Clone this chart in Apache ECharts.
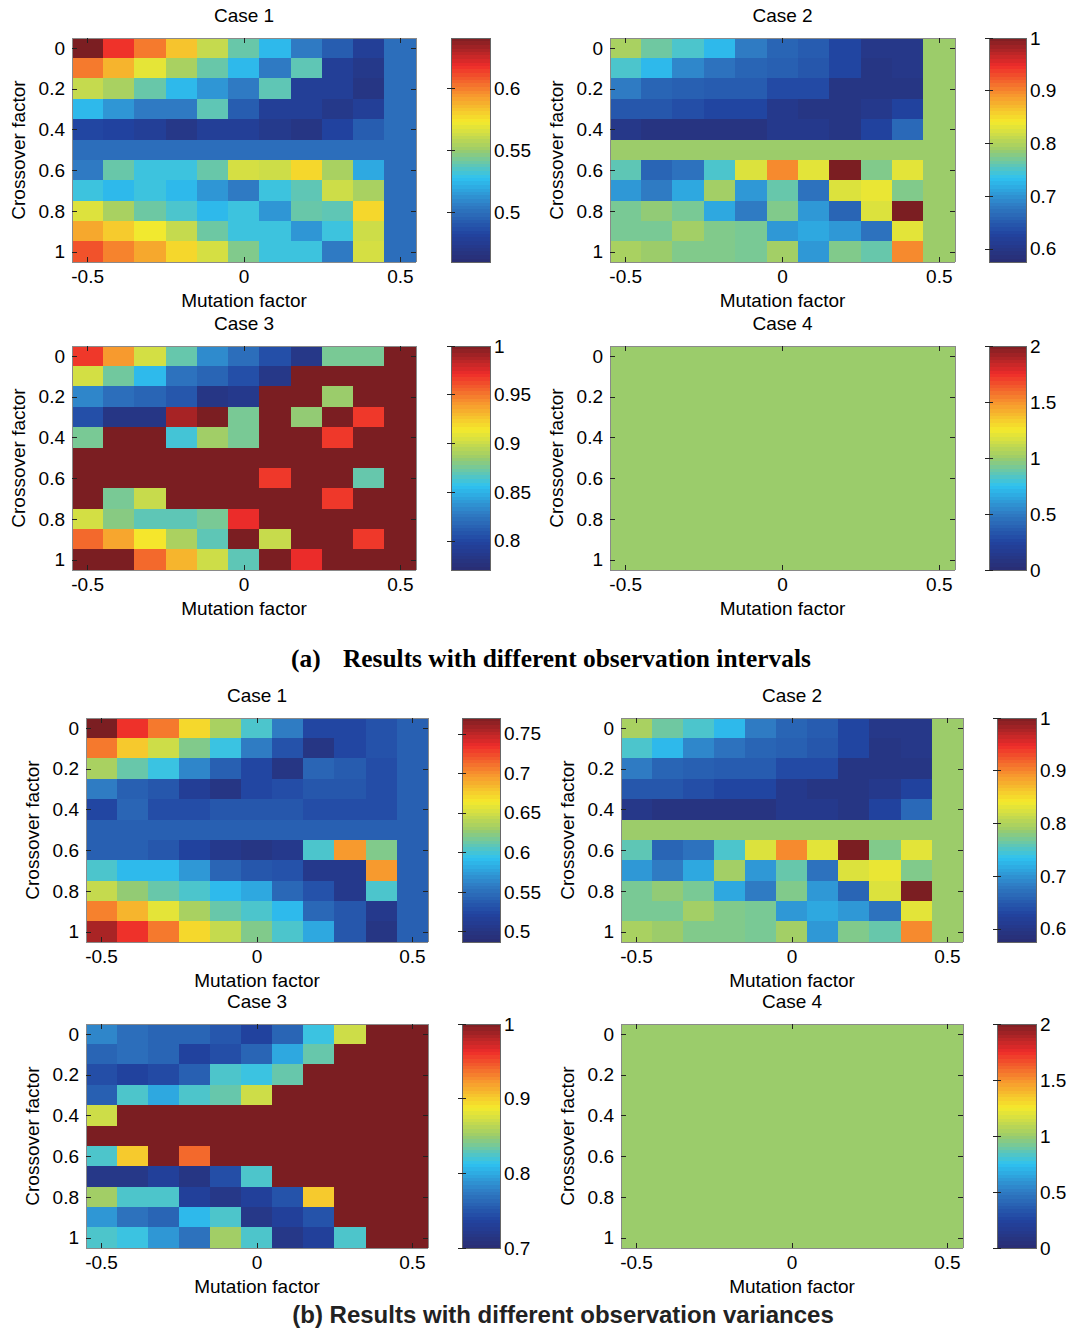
<!DOCTYPE html>
<html>
<head>
<meta charset="utf-8">
<script src="https://cdn.jsdelivr.net/npm/echarts@6/dist/echarts.min.js"></script>
<style>html,body{margin:0;padding:0;background:#fff;}#chart{width:1073px;height:1331px;}</style>
</head>
<body>
<div id="chart"></div>
<script>
// ---------- axes categories and tick labels ----------
const mutationFactors = ['-0.5','-0.4','-0.3','-0.2','-0.1','0','0.1','0.2','0.3','0.4','0.5'];
const crossoverFactors = ['0','0.1','0.2','0.3','0.4','0.5','0.6','0.7','0.8','0.9','1'];
const mutationTickLabels = ['-0.5','0','0.5'];
const crossoverTickLabels = ['0','0.2','0.4','0.6','0.8','1'];

// ---------- (a) different observation intervals ----------
// rows: crossover factor 0 .. 1, columns: mutation factor -0.5 .. 0.5
const intervalsCase1 = [
  [0.641,0.617,0.601,0.583,0.561,0.540,0.525,0.505,0.493,0.478,0.500],
  [0.601,0.587,0.569,0.554,0.540,0.525,0.505,0.538,0.478,0.472,0.500],
  [0.561,0.554,0.540,0.525,0.514,0.505,0.538,0.478,0.478,0.469,0.500],
  [0.525,0.514,0.505,0.505,0.538,0.493,0.478,0.478,0.472,0.478,0.500],
  [0.484,0.482,0.478,0.471,0.478,0.478,0.473,0.469,0.482,0.493,0.500],
  [0.500,0.500,0.500,0.500,0.500,0.500,0.500,0.500,0.500,0.500,0.500],
  [0.505,0.540,0.531,0.531,0.540,0.565,0.563,0.578,0.554,0.520,0.500],
  [0.531,0.525,0.531,0.525,0.514,0.505,0.531,0.538,0.563,0.554,0.500],
  [0.567,0.554,0.541,0.534,0.525,0.531,0.514,0.540,0.538,0.578,0.500],
  [0.590,0.581,0.572,0.561,0.541,0.531,0.531,0.514,0.531,0.563,0.500],
  [0.610,0.599,0.590,0.578,0.565,0.545,0.531,0.531,0.505,0.565,0.500]
];
const intervalsCase1Range = [0.46, 0.641];
const intervalsCase1Ticks = [0.5, 0.55, 0.6];

const intervalsCase2 = [
  [0.796,0.766,0.749,0.728,0.681,0.660,0.652,0.630,0.601,0.601,0.788],
  [0.749,0.728,0.690,0.673,0.660,0.656,0.647,0.630,0.596,0.601,0.788],
  [0.681,0.660,0.656,0.652,0.652,0.635,0.635,0.596,0.596,0.596,0.788],
  [0.647,0.647,0.639,0.630,0.630,0.605,0.596,0.596,0.605,0.626,0.788],
  [0.601,0.592,0.592,0.592,0.592,0.605,0.605,0.596,0.626,0.664,0.788],
  [0.788,0.788,0.788,0.788,0.788,0.788,0.788,0.788,0.788,0.788,0.788],
  [0.758,0.660,0.673,0.749,0.826,0.898,0.830,1.000,0.775,0.830,0.788],
  [0.703,0.681,0.715,0.792,0.703,0.762,0.673,0.826,0.834,0.775,0.788],
  [0.771,0.783,0.771,0.715,0.681,0.775,0.703,0.660,0.826,1.000,0.788],
  [0.771,0.771,0.792,0.775,0.771,0.703,0.715,0.703,0.673,0.830,0.788],
  [0.796,0.788,0.775,0.775,0.771,0.792,0.703,0.775,0.762,0.898,0.788]
];
const intervalsCase2Range = [0.575, 1.0];
const intervalsCase2Ticks = [0.6, 0.7, 0.8, 0.9, 1];

const intervalsCase3 = [
  [0.968,0.940,0.903,0.871,0.834,0.821,0.805,0.784,0.876,0.876,1.000],
  [0.903,0.874,0.853,0.823,0.816,0.805,0.784,1.000,1.000,1.000,1.000],
  [0.832,0.821,0.816,0.809,0.782,0.786,1.000,1.000,0.885,1.000,1.000],
  [0.805,0.782,0.782,0.989,1.000,0.876,1.000,0.883,1.000,0.968,1.000],
  [0.876,1.000,1.000,0.862,0.887,0.876,1.000,1.000,0.968,1.000,1.000],
  [1.000,1.000,1.000,1.000,1.000,1.000,1.000,1.000,1.000,1.000,1.000],
  [1.000,1.000,1.000,1.000,1.000,1.000,0.968,1.000,1.000,0.871,1.000],
  [1.000,0.876,0.899,1.000,1.000,1.000,1.000,1.000,0.968,1.000,1.000],
  [0.903,0.880,0.869,0.869,0.876,0.972,1.000,1.000,1.000,1.000,1.000],
  [0.954,0.936,0.915,0.890,0.869,1.000,0.899,1.000,1.000,0.968,1.000],
  [1.000,1.000,0.954,0.931,0.901,0.869,1.000,0.972,1.000,1.000,1.000]
];
const intervalsCase3Range = [0.77, 1.0];
const intervalsCase3Ticks = [0.8, 0.85, 0.9, 0.95, 1];

const intervalsCase4 = [
  [1,1,1,1,1,1,1,1,1,1,1],[1,1,1,1,1,1,1,1,1,1,1],[1,1,1,1,1,1,1,1,1,1,1],
  [1,1,1,1,1,1,1,1,1,1,1],[1,1,1,1,1,1,1,1,1,1,1],[1,1,1,1,1,1,1,1,1,1,1],
  [1,1,1,1,1,1,1,1,1,1,1],[1,1,1,1,1,1,1,1,1,1,1],[1,1,1,1,1,1,1,1,1,1,1],
  [1,1,1,1,1,1,1,1,1,1,1],[1,1,1,1,1,1,1,1,1,1,1]
];
const intervalsCase4Range = [0, 2];
const intervalsCase4Ticks = [0, 0.5, 1, 1.5, 2];

// ---------- (b) different observation variances ----------
const variancesCase1 = [
  [0.770,0.733,0.708,0.671,0.634,0.603,0.558,0.524,0.524,0.532,0.541],
  [0.708,0.677,0.648,0.620,0.597,0.558,0.532,0.501,0.524,0.532,0.541],
  [0.634,0.612,0.597,0.563,0.541,0.524,0.501,0.544,0.538,0.529,0.541],
  [0.558,0.541,0.535,0.515,0.501,0.524,0.529,0.535,0.535,0.529,0.541],
  [0.524,0.544,0.529,0.529,0.535,0.535,0.535,0.529,0.529,0.529,0.541],
  [0.541,0.541,0.541,0.541,0.541,0.541,0.541,0.541,0.541,0.541,0.541],
  [0.541,0.541,0.535,0.521,0.507,0.501,0.507,0.603,0.696,0.620,0.541],
  [0.603,0.589,0.589,0.572,0.544,0.535,0.532,0.507,0.507,0.696,0.541],
  [0.645,0.626,0.612,0.603,0.589,0.580,0.546,0.532,0.507,0.603,0.541],
  [0.705,0.685,0.657,0.634,0.612,0.603,0.589,0.546,0.535,0.507,0.541],
  [0.756,0.733,0.708,0.671,0.645,0.620,0.603,0.580,0.535,0.501,0.541]
];
const variancesCase1Range = [0.487, 0.770];
const variancesCase1Ticks = [0.5, 0.55, 0.6, 0.65, 0.7, 0.75];

const variancesCase2 = [
  [0.796,0.766,0.749,0.728,0.681,0.660,0.652,0.630,0.601,0.601,0.788],
  [0.749,0.728,0.690,0.673,0.660,0.656,0.647,0.630,0.596,0.601,0.788],
  [0.681,0.660,0.656,0.652,0.652,0.635,0.635,0.596,0.596,0.596,0.788],
  [0.647,0.647,0.639,0.630,0.630,0.605,0.596,0.596,0.605,0.626,0.788],
  [0.601,0.592,0.592,0.592,0.592,0.605,0.605,0.596,0.626,0.664,0.788],
  [0.788,0.788,0.788,0.788,0.788,0.788,0.788,0.788,0.788,0.788,0.788],
  [0.758,0.660,0.673,0.749,0.826,0.898,0.830,1.000,0.775,0.830,0.788],
  [0.703,0.681,0.715,0.792,0.703,0.762,0.673,0.826,0.834,0.775,0.788],
  [0.771,0.783,0.771,0.715,0.681,0.775,0.703,0.660,0.826,1.000,0.788],
  [0.771,0.771,0.792,0.775,0.771,0.703,0.715,0.703,0.673,0.830,0.788],
  [0.796,0.788,0.775,0.775,0.771,0.792,0.703,0.775,0.762,0.898,0.788]
];
const variancesCase2Range = [0.575, 1.0];
const variancesCase2Ticks = [0.6, 0.7, 0.8, 0.9, 1];

const variancesCase3 = [
  [0.781,0.766,0.760,0.760,0.751,0.736,0.760,0.817,0.871,1.000,1.000],
  [0.760,0.766,0.760,0.736,0.745,0.760,0.799,0.832,1.000,1.000,1.000],
  [0.745,0.736,0.742,0.757,0.823,0.817,0.832,1.000,1.000,1.000,1.000],
  [0.757,0.823,0.799,0.823,0.832,0.871,1.000,1.000,1.000,1.000,1.000],
  [0.871,1.000,1.000,1.000,1.000,1.000,1.000,1.000,1.000,1.000,1.000],
  [1.000,1.000,1.000,1.000,1.000,1.000,1.000,1.000,1.000,1.000,1.000],
  [0.823,0.901,1.000,0.940,1.000,1.000,1.000,1.000,1.000,1.000,1.000],
  [0.718,0.718,0.733,0.715,0.745,0.823,1.000,1.000,1.000,1.000,1.000],
  [0.853,0.823,0.823,0.733,0.718,0.733,0.748,0.901,1.000,1.000,1.000],
  [0.790,0.769,0.760,0.808,0.823,0.718,0.733,0.748,1.000,1.000,1.000],
  [0.823,0.817,0.790,0.769,0.853,0.823,0.718,0.733,0.823,1.000,1.000]
];
const variancesCase3Range = [0.7, 1.0];
const variancesCase3Ticks = [0.7, 0.8, 0.9, 1];

const variancesCase4 = [
  [1,1,1,1,1,1,1,1,1,1,1],[1,1,1,1,1,1,1,1,1,1,1],[1,1,1,1,1,1,1,1,1,1,1],
  [1,1,1,1,1,1,1,1,1,1,1],[1,1,1,1,1,1,1,1,1,1,1],[1,1,1,1,1,1,1,1,1,1,1],
  [1,1,1,1,1,1,1,1,1,1,1],[1,1,1,1,1,1,1,1,1,1,1],[1,1,1,1,1,1,1,1,1,1,1],
  [1,1,1,1,1,1,1,1,1,1,1],[1,1,1,1,1,1,1,1,1,1,1]
];
const variancesCase4Range = [0, 2];
const variancesCase4Ticks = [0, 0.5, 1, 1.5, 2];

const caseTitles = ['Case 1','Case 2','Case 3','Case 4'];
const captionA = ['(a)', 'Results with different observation intervals'];
const captionB = '(b) Results with different observation variances';

// ---------- styling / layout ----------
const FONT = '"Liberation Sans", Arial, sans-serif';
const SERIF = '"Liberation Serif", "Times New Roman", serif';
const jet = ['#2a2d72','#2143a0','#2f7bc3','#2ec2f1','#9bcc6b','#f5ea2c','#f7922e','#ee2c2a','#7b1e22'];

function hex2rgb(h){return [parseInt(h.slice(1,3),16),parseInt(h.slice(3,5),16),parseInt(h.slice(5,7),16)];}
function jetAt(t){
  const n = jet.length - 1;
  const x = Math.max(0, Math.min(1, t)) * n;
  const i = Math.min(n - 1, Math.floor(x));
  const f = x - i;
  const a = hex2rgb(jet[i]), b = hex2rgb(jet[i+1]);
  const c = a.map((v,k)=>Math.round(v + (b[k]-v)*f));
  return 'rgb(' + c.join(',') + ')';
}
function bandedStops(){
  const stops = [];
  const N = 64;
  for (let i = 0; i < N; i++) {
    const col = jetAt((i + 0.5) / N);
    stops.push({offset: i / N, color: col});
    stops.push({offset: (i + 1) / N, color: col});
  }
  return stops;
}

const panels = [
  {values:intervalsCase1, range:intervalsCase1Range, ticks:intervalsCase1Ticks, title:caseTitles[0], left:72,  top:38,  width:344, height:224, barLeft:451, barWidth:39},
  {values:intervalsCase2, range:intervalsCase2Range, ticks:intervalsCase2Ticks, title:caseTitles[1], left:610, top:38,  width:345, height:224, barLeft:989, barWidth:37},
  {values:intervalsCase3, range:intervalsCase3Range, ticks:intervalsCase3Ticks, title:caseTitles[2], left:72,  top:346, width:344, height:224, barLeft:451, barWidth:39},
  {values:intervalsCase4, range:intervalsCase4Range, ticks:intervalsCase4Ticks, title:caseTitles[3], left:610, top:346, width:345, height:224, barLeft:989, barWidth:37},
  {values:variancesCase1, range:variancesCase1Range, ticks:variancesCase1Ticks, title:caseTitles[0], left:86,  top:718, width:342, height:224, barLeft:462, barWidth:38},
  {values:variancesCase2, range:variancesCase2Range, ticks:variancesCase2Ticks, title:caseTitles[1], left:621, top:718, width:342, height:224, barLeft:997, barWidth:39},
  {values:variancesCase3, range:variancesCase3Range, ticks:variancesCase3Ticks, title:caseTitles[2], left:86,  top:1024,width:342, height:224, barLeft:462, barWidth:38},
  {values:variancesCase4, range:variancesCase4Range, ticks:variancesCase4Ticks, title:caseTitles[3], left:621, top:1024,width:342, height:224, barLeft:997, barWidth:39}
];

const txt = {fontSize:19, color:'#000', fontFamily:FONT};
const boxLine = {show:true, lineStyle:{color:'#8a8a8a', width:1}};
const tickStyle = {color:'#222', width:1};
const showX = (idx) => mutationTickLabels.indexOf(mutationFactors[idx]) >= 0;
const showY = (idx) => crossoverTickLabels.indexOf(crossoverFactors[idx]) >= 0;

const grids = [], xAxes = [], yAxes = [], series = [], visualMaps = [], titles = [];

panels.forEach((p) => {
  const gi = grids.length;
  grids.push({left:p.left, top:p.top, width:p.width, height:p.height});
  const xb = xAxes.length;
  xAxes.push({type:'category', gridIndex:gi, data:mutationFactors, position:'bottom', z:5,
    name:'Mutation factor', nameLocation:'middle', nameGap:29, nameTextStyle:txt,
    axisLine:boxLine,
    axisTick:{show:true, inside:true, alignWithLabel:true, length:5, interval:showX, lineStyle:tickStyle},
    axisLabel:{interval:showX, margin:5, ...txt},
    splitLine:{show:false}});
  xAxes.push({type:'category', gridIndex:gi, data:mutationFactors, position:'top', z:5,
    axisLine:boxLine,
    axisTick:{show:true, inside:true, alignWithLabel:true, length:5, interval:showX, lineStyle:tickStyle},
    axisLabel:{show:false}, splitLine:{show:false}});
  const yl = yAxes.length;
  yAxes.push({type:'category', gridIndex:gi, data:crossoverFactors, inverse:true, position:'left', z:5,
    name:'Crossover factor', nameLocation:'middle', nameGap:44, nameRotate:90, nameTextStyle:txt,
    axisLine:boxLine,
    axisTick:{show:true, inside:true, alignWithLabel:true, length:5, interval:showY, lineStyle:tickStyle},
    axisLabel:{interval:showY, margin:7, ...txt},
    splitLine:{show:false}});
  yAxes.push({type:'category', gridIndex:gi, data:crossoverFactors, inverse:true, position:'right', z:5,
    axisLine:boxLine,
    axisTick:{show:true, inside:true, alignWithLabel:true, length:5, interval:showY, lineStyle:tickStyle},
    axisLabel:{show:false}, splitLine:{show:false}});
  const cells = [];
  p.values.forEach((row, yi) => row.forEach((v, xi) => cells.push([xi, yi, v])));
  series.push({type:'heatmap', xAxisIndex:xb, yAxisIndex:yl, data:cells, silent:true,
    emphasis:{disabled:true}, progressive:0});
  visualMaps.push({type:'continuous', show:false, min:p.range[0], max:p.range[1],
    seriesIndex:series.length-1, dimension:2, inRange:{color:jet}});

  // colorbar
  const cg = grids.length;
  grids.push({left:p.barLeft, top:p.top, width:p.barWidth, height:p.height});
  const cx = xAxes.length;
  xAxes.push({type:'value', gridIndex:cg, min:0, max:1, show:false});
  const cy = yAxes.length;
  yAxes.push({type:'value', gridIndex:cg, min:p.range[0], max:p.range[1], position:'right', z:5,
    axisLine:{show:false}, splitLine:{show:false},
    axisTick:{show:true, inside:true, length:4, customValues:p.ticks, lineStyle:tickStyle},
    axisLabel:{show:true, margin:4, customValues:p.ticks, ...txt}});
  yAxes.push({type:'value', gridIndex:cg, min:p.range[0], max:p.range[1], position:'left', z:5,
    axisLine:{show:false}, splitLine:{show:false},
    axisTick:{show:true, inside:true, length:4, customValues:p.ticks, lineStyle:tickStyle},
    axisLabel:{show:false}});
  series.push({type:'custom', xAxisIndex:cx, yAxisIndex:cy, silent:true, z:1,
    data:[[0, 1, p.range[0], p.range[1]]],
    encode:{x:[0,1], y:[2,3]},
    renderItem:(params, api) => {
      const tl = api.coord([api.value(0), api.value(3)]);
      const br = api.coord([api.value(1), api.value(2)]);
      return {type:'rect', shape:{x:tl[0], y:tl[1], width:br[0]-tl[0], height:br[1]-tl[1]},
        style:{fill:new echarts.graphic.LinearGradient(0, 1, 0, 0, bandedStops()), stroke:'#666', lineWidth:1}};
    }});

  titles.push({text:p.title, left:p.left + p.width/2, top:p.top - 32, textAlign:'center', padding:0,
    textStyle:{fontSize:19, fontWeight:'normal', color:'#000', fontFamily:FONT}});
});

titles.push({text:captionA[0], left:291, top:645, padding:0,
  textStyle:{fontSize:25.4, fontWeight:'bold', color:'#000', fontFamily:SERIF}});
titles.push({text:captionA[1], left:343, top:645, padding:0,
  textStyle:{fontSize:25.4, fontWeight:'bold', color:'#000', fontFamily:SERIF}});
titles.push({text:captionB, left:563, top:1302, textAlign:'center', padding:0,
  textStyle:{fontSize:24, fontWeight:'bold', color:'#222', fontFamily:FONT}});

const chart = echarts.init(document.getElementById('chart'), null, {renderer:'svg', width:1073, height:1331});
chart.setOption({
  backgroundColor:'#fff',
  animation:false,
  title:titles,
  grid:grids,
  xAxis:xAxes,
  yAxis:yAxes,
  visualMap:visualMaps,
  series:series
});
// avoid anti-aliasing seams between adjacent heatmap cells
const svgEl = document.querySelector('#chart svg');
if (svgEl) svgEl.setAttribute('shape-rendering', 'crispEdges');
</script>
</body>
</html>
